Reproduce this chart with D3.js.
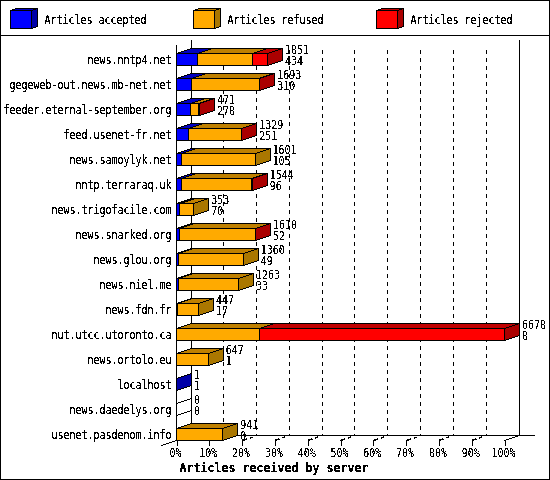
<!DOCTYPE html>
<html lang="en">
  <head>
    <meta charset="UTF-8" />
    <title>Articles received by server</title>
    <style>
      html, body { margin: 0; padding: 0; background: #fff; }
      svg { display: block; }
      text { font-family: "DejaVu Sans Mono", monospace; font-size: 11.5px; fill: #000; }
      .txt { filter: url(#crisp); }
      .title { font-weight: bold; font-size: 13px; }
      line, path, rect, polygon { shape-rendering: crispEdges; }
    </style>
  </head>
  <body>
    <div class="container"></div>
    <script src="https://d3js.org/d3.v7.min.js"></script>
    <script>
      // data
      const servers = ["news.nntp4.net", "gegeweb-out.news.mb-net.net", "feeder.eternal-september.org",
        "feed.usenet-fr.net", "news.samoylyk.net", "nntp.terraraq.uk", "news.trigofacile.com",
        "news.snarked.org", "news.glou.org", "news.niel.me", "news.fdn.fr", "nut.utcc.utoronto.ca",
        "news.ortolo.eu", "localhost", "news.daedelys.org", "usenet.pasdenom.info"];
      const accepted = [434, 310, 278, 251, 105, 96, 70, 52, 49, 33, 17, 8, 1, 1, 0, 0];
      const refused = [1111, 1371, 180, 1068, 1496, 1440, 283, 1550, 1311, 1230, 430, 1680, 646, 0, 0, 941];
      const rejected = [306, 12, 13, 10, 0, 8, 0, 8, 0, 0, 0, 4990, 0, 0, 0, 0];
      const totals = [1851, 1693, 471, 1329, 1601, 1544, 353, 1610, 1360, 1263, 447, 6678, 647, 1, 0, 941];
      const pctTicks = [0, 10, 20, 30, 40, 50, 60, 70, 80, 90, 100];
      const seriesNames = ["Articles accepted", "Articles refused", "Articles rejected"];
      const front = ["#0000ff", "#ffaa00", "#ff0000"];
      const topCol = ["#0000c0", "#bf8000", "#c00000"];
      const sideCol = ["#0000a8", "#aa7700", "#aa0000"];

      const W = 550, H = 480;
      const dx = 15, dy = 5; // fake 3d depth
      const barH = 12;

      const svg = d3.select(".container").append("svg").attr("width", W).attr("height", H);
      // hard edged text, threshold at 0.4 alpha
      svg.append("defs").append("filter").attr("id", "crisp")
        .attr("color-interpolation-filters", "sRGB")
        .append("feComponentTransfer")
        .append("feFuncA").attr("type", "discrete").attr("tableValues", "0 0 1 1 1");

      // every glyph sits on a fixed cell, like the small gd font
      function cell(sel, w) {
        sel.attr("textLength", function () { return this.textContent.length * w; })
          .attr("lengthAdjust", "spacingAndGlyphs");
      }

      const x = d3.scaleLinear().domain([0, d3.max(totals)]).range([176.5, 504.5]);
      const pct = d3.scaleLinear().domain([0, 100]).range(x.range());
      const y = d3.scaleBand().domain(servers).range([47, 447]);
      const floorY = 440.5;

      // frame
      svg.append("rect").attr("x", 0.5).attr("y", 0.5).attr("width", W - 1).attr("height", H - 1)
        .attr("fill", "none").attr("stroke", "#000");
      svg.append("line").attr("x1", 0).attr("x2", W).attr("y1", 35.5).attr("y2", 35.5).attr("stroke", "#000");

      // legend
      const legX = [10.5, 193.5, 376.5];
      const leg = svg.append("g").selectAll("g").data(seriesNames).join("g")
        .attr("transform", (d, i) => `translate(${legX[i]},10.5)`);
      leg.append("polygon").attr("points", "0,0 6,-2 27,-2 21,0").attr("fill", (d, i) => topCol[i]).attr("stroke", "#000");
      leg.append("polygon").attr("points", "21,0 27,-2 27,16 21,18").attr("fill", (d, i) => sideCol[i]).attr("stroke", "#000");
      leg.append("rect").attr("width", 21).attr("height", 18).attr("fill", (d, i) => front[i]).attr("stroke", "#000");
      leg.append("text").attr("class", "txt").attr("x", 34).attr("y", 9).attr("dy", "0.35em").text(d => d).call(cell, 6);

      // back wall and floor
      const back = svg.append("g");
      back.selectAll("line.grid").data(pctTicks.slice(1, -1)).join("line").attr("class", "grid")
        .attr("x1", d => pct(d) + dx - 0.6).attr("x2", d => pct(d) + dx - 0.6)
        .attr("y1", 50).attr("y2", floorY - dy)
        .attr("stroke", "#000").attr("stroke-dasharray", "4 4");
      back.selectAll("line.obl").data(pctTicks.slice(1, -1)).join("line").attr("class", "obl")
        .attr("x1", d => pct(d)).attr("x2", d => pct(d) + dx)
        .attr("y1", floorY).attr("y2", floorY - dy)
        .attr("stroke", "#000").attr("stroke-width", 1.6).attr("stroke-dasharray", "5 3 3 9");
      back.append("line").attr("x1", pct(100)).attr("x2", pct(100) + dx).attr("y1", floorY).attr("y2", floorY - dy).attr("stroke", "#000");
      back.append("line").attr("x1", 161.5).attr("x2", pct(0) + dx).attr("y1", 445.5).attr("y2", floorY - dy).attr("stroke", "#000");
      back.append("line").attr("x1", pct(0) + dx).attr("x2", 535).attr("y1", floorY - dy).attr("y2", floorY - dy).attr("stroke", "#000");
      back.append("line").attr("x1", pct(0) + dx).attr("x2", pct(0) + dx).attr("y1", 40).attr("y2", floorY - dy).attr("stroke", "#000");
      back.append("line").attr("x1", pct(100) + dx).attr("x2", pct(100) + dx).attr("y1", 40).attr("y2", floorY - dy).attr("stroke", "#000");
      back.append("line").attr("x1", pct(0)).attr("x2", pct(0)).attr("y1", 45).attr("y2", floorY).attr("stroke", "#000");

      // stacked bars
      const rows = servers.map((s, i) => ({ s, a: accepted[i], r: refused[i], j: rejected[i], total: totals[i] }));
      const stack = d3.stack().keys(["a", "r", "j"])(rows);

      const rowG = svg.append("g").selectAll("g").data(rows).join("g");
      rowG.each(function (row, i) {
        const g = d3.select(this);
        const top = y(row.s) + 6.5;
        let last = -1;
        stack.forEach((layer, k) => {
          const [v0, v1] = layer[i];
          if (v1 <= v0) return;
          last = k;
          const x0 = x(v0), x1 = x(v1);
          g.append("polygon")
            .attr("points", [[x0, top], [x0 + dx, top - dy], [x1 + dx, top - dy], [x1, top]].join(" "))
            .attr("fill", topCol[k]).attr("stroke", "#000");
        });
        const xe = x(row.total);
        g.append("polygon")
          .attr("points", [[xe, top], [xe + dx, top - dy], [xe + dx, top - dy + barH], [xe, top + barH]].join(" "))
          .attr("fill", last < 0 ? "none" : sideCol[last]).attr("stroke", "#000");
        stack.forEach((layer, k) => {
          const [v0, v1] = layer[i];
          if (v1 <= v0) return;
          g.append("rect").attr("x", x(v0)).attr("y", top).attr("width", x(v1) - x(v0)).attr("height", barH)
            .attr("fill", front[k]).attr("stroke", "#000");
        });
        // value pair next to the bar
        const tx = xe + dx + 2.5;
        g.append("text").attr("class", "txt").attr("x", tx).attr("y", y(row.s) + 3).attr("dy", "0.35em").text(row.total).call(cell, 6);
        g.append("text").attr("class", "txt").attr("x", tx).attr("y", y(row.s) + 14).attr("dy", "0.35em").text(row.a).call(cell, 6);
      });

      // axes
      const yAxis = svg.append("g").attr("transform", "translate(176.5,0)")
        .call(d3.axisLeft(y).tickSize(0).tickPadding(5));
      yAxis.select(".domain").remove();
      yAxis.selectAll("text").attr("class", "txt").attr("dy", "0.35em").call(cell, 6)
        .style("font-size", "11.5px").style("font-family", '"DejaVu Sans Mono", monospace');

      const xAxis = svg.append("g").attr("transform", `translate(0,${floorY})`)
        .call(d3.axisBottom(pct).tickValues(pctTicks).tickFormat(d => d + "%").tickSize(5).tickPadding(3));
      xAxis.select(".domain").remove();
      xAxis.selectAll("text").attr("class", "txt").attr("dx", -1.5).call(cell, 6)
        .style("font-size", "11.5px").style("font-family", '"DejaVu Sans Mono", monospace');

      svg.append("text").attr("class", "txt title").attr("x", 274).attr("y", 467).attr("dy", "0.35em")
        .attr("text-anchor", "middle").text("Articles received by server").call(cell, 7);
    </script>
  </body>
</html>
